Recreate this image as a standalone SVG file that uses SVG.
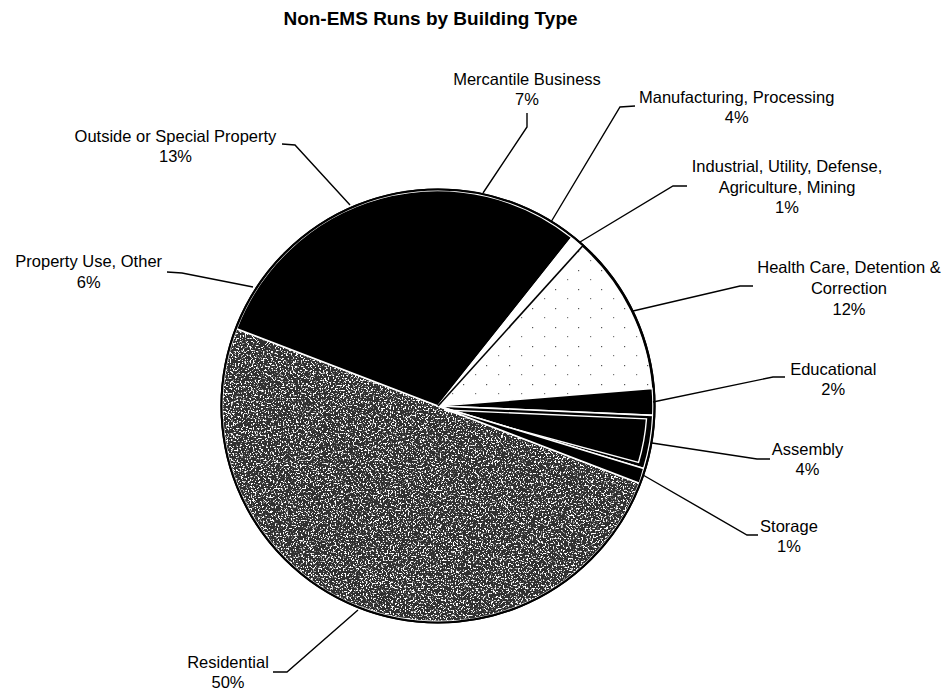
<svg xmlns="http://www.w3.org/2000/svg" width="948" height="696" viewBox="0 0 948 696">
<style>
  text { font-family: "Liberation Sans", Arial, sans-serif; font-size: 16.5px; fill: #000; text-anchor: middle; }
  .title { font-size: 19px; font-weight: bold; }
  .lead { fill: none; stroke: #000; stroke-width: 1.4; stroke-linejoin: miter; }
  .blk { fill: #000; stroke: #fff; stroke-width: 1.6; stroke-linejoin: round; }
  .wht { fill: #fff; stroke: #fff; stroke-width: 1.6; }
  .edge { fill: none; stroke: #fff; stroke-width: 1.6; stroke-linejoin: round; }
</style>
<defs>
  <filter id="grain" x="0" y="0" width="1" height="1" color-interpolation-filters="sRGB">
    <feTurbulence type="fractalNoise" baseFrequency="0.6" numOctaves="2" seed="7" result="n"/>
    <feColorMatrix in="n" type="matrix" values="0 0 0 0 1  0 0 0 0 1  0 0 0 0 1  10 0 0 0 -5.45" result="w"/>
    <feComposite in="w" in2="SourceGraphic" operator="in" result="wc"/>
    <feMerge><feMergeNode in="SourceGraphic"/><feMergeNode in="wc"/></feMerge>
  </filter>
  <pattern id="dots" width="23" height="19" patternUnits="userSpaceOnUse">
    <rect x="3" y="4" width="1.2" height="1.2" fill="#555"/>
    <rect x="15" y="13" width="1.2" height="1.2" fill="#777"/>
  </pattern>
</defs>

<rect width="948" height="696" fill="#fff"/>
<text class="title" x="430.5" y="25">Non-EMS Runs by Building Type</text>

<g id="pie">
  <circle cx="438" cy="406" r="217.5" fill="#000"/>
  <g id="slice-residential">
    <path d="M438,406 L639.4,483.3 A215,215 0 0 1 236.6,328.7 Z" fill="#303030" filter="url(#grain)"/>
    <path class="edge" d="M438,406 L639.4,483.3 A215,215 0 0 1 236.6,328.7 Z"/>
  </g>
  <g id="slice-black-group">
    <path class="blk" d="M438,406 L236.6,328.7 A215,215 0 0 1 571.8,237.7 Z"/>
  </g>
  <g id="slice-industrial">
    <path class="wht" d="M438,406 L571.8,237.7 A215,215 0 0 1 582.1,246.5 Z"/>
  </g>
  <g id="slice-health">
    <path d="M438,406 L582.1,246.5 A215,215 0 0 1 652.3,388.4 Z" fill="#fff"/>
    <path d="M438,406 L582.1,246.5 A215,215 0 0 1 652.3,388.4 Z" fill="url(#dots)"/>
  </g>
  <g id="slice-educational">
    <path class="blk" d="M438,406 L652.3,388.4 A215,215 0 0 1 652.8,415.4 Z"/>
  </g>
  <g id="slice-assembly">
    <path class="blk" d="M438,406 L652.8,415.4 A215,215 0 0 1 643.7,468.5 Z"/>
    <path d="M444,410 L646.5,418.8 A208,208 0 0 1 638.5,462.5 Z" fill="none" stroke="#fff" stroke-width="1.4"/>
  </g>
  <g id="slice-storage">
    <path class="blk" d="M438,406 L643.7,468.5 A215,215 0 0 1 639.4,483.3 Z"/>
  </g>
  <line x1="438" y1="406" x2="583.5" y2="245" stroke="#000" stroke-width="1.6"/>
  <circle cx="438" cy="406" r="216.5" fill="none" stroke="#000" stroke-width="2.2"/>
</g>

<g id="connectors">
  <polyline class="lead" points="282,144 295,145 350,205"/>
  <polyline class="lead" points="167,272 182,273 253,287"/>
  <polyline class="lead" points="527,113 527,127 483,193"/>
  <polyline class="lead" points="635,106 620,107 551,222"/>
  <polyline class="lead" points="687,186 673,186 580,242"/>
  <polyline class="lead" points="753,286 740,286 633,311"/>
  <polyline class="lead" points="785,377 773,377 653,402"/>
  <polyline class="lead" points="770,459 757,459 652,443"/>
  <polyline class="lead" points="758,535 747,535 643,475"/>
  <polyline class="lead" points="273,672 287,672 358,610"/>
</g>

<g id="label-outside"><text x="175.5" y="142">Outside or Special Property</text><text x="175.5" y="162">13%</text></g>
<g id="label-property-use"><text x="88.7" y="267">Property Use, Other</text><text x="88.7" y="287.5">6%</text></g>
<g id="label-mercantile"><text x="527" y="85">Mercantile Business</text><text x="527" y="105">7%</text></g>
<g id="label-manufacturing"><text x="736.7" y="103">Manufacturing, Processing</text><text x="736.7" y="123">4%</text></g>
<g id="label-industrial"><text x="787" y="171.7">Industrial, Utility, Defense,</text><text x="787" y="192.5">Agriculture, Mining</text><text x="787" y="213.3">1%</text></g>
<g id="label-health"><text x="849" y="273">Health Care, Detention &amp;</text><text x="849" y="294">Correction</text><text x="849" y="315">12%</text></g>
<g id="label-educational"><text x="833.3" y="375">Educational</text><text x="833.3" y="395">2%</text></g>
<g id="label-assembly"><text x="807.5" y="455">Assembly</text><text x="807.5" y="475">4%</text></g>
<g id="label-storage"><text x="789" y="531.7">Storage</text><text x="789" y="551.5">1%</text></g>
<g id="label-residential"><text x="228" y="668.3">Residential</text><text x="228" y="688.3">50%</text></g>
</svg>
